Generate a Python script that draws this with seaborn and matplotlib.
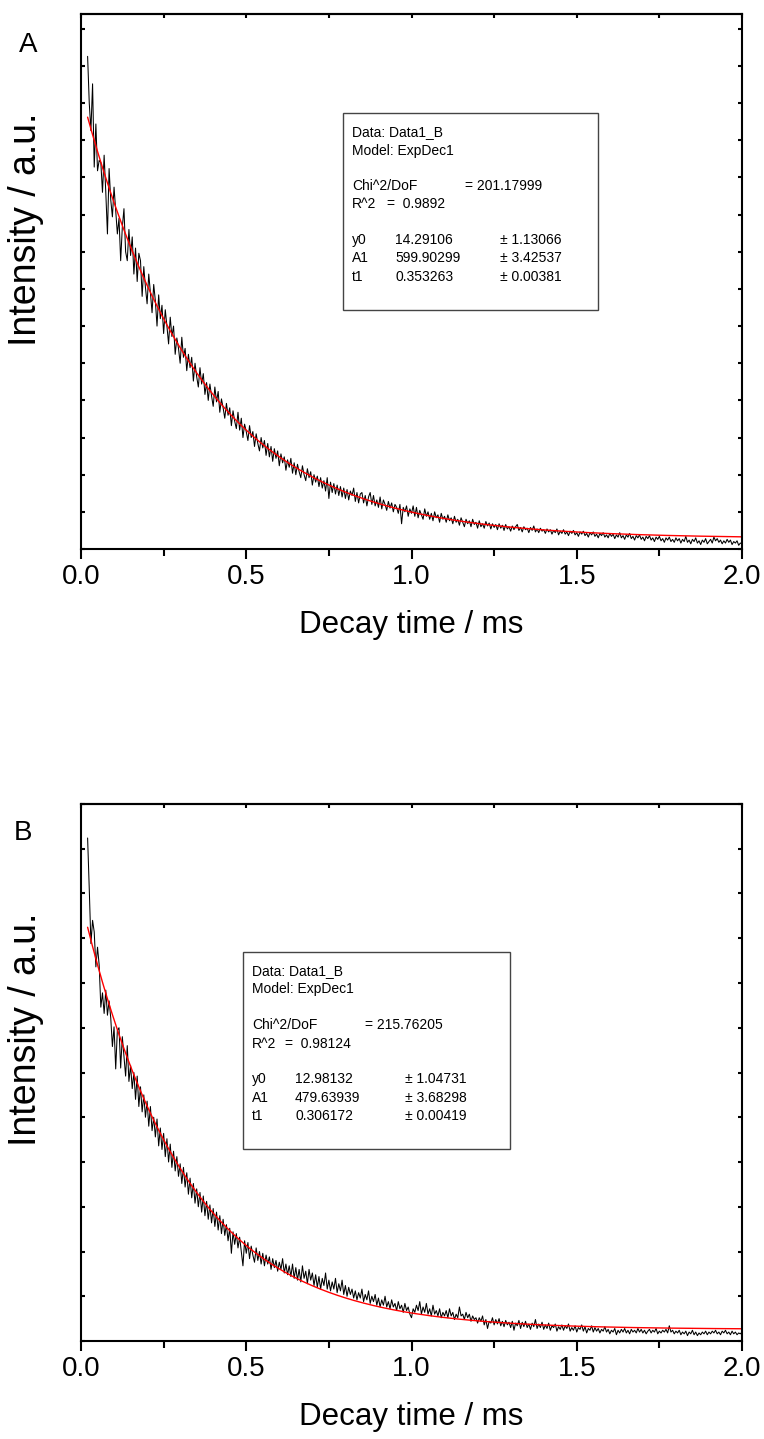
import numpy as np
import pandas as pd
import matplotlib
matplotlib.use("Agg")
import matplotlib.pyplot as plt
from matplotlib.patches import Rectangle
from matplotlib.ticker import MultipleLocator
import seaborn as sns

# ---------------- data ----------------
time_first_ms = 0.02
time_last_ms = 2.00

intensity_a = [
    663, 600, 563, 626, 514, 572, 509, 523, 520, 480, 530, 480, 424, 512, 470, 447,
    487, 455, 424, 445, 388, 433, 458, 400, 388, 430, 395, 420, 370, 405, 360, 398,
    388, 340, 380, 352, 330, 370, 345, 318, 356, 334, 300, 342, 310, 328, 290, 322,
    300, 276, 312, 286, 300, 262, 284, 270, 250, 285, 258, 270, 240, 262, 244, 258,
    226, 250, 232, 218, 244, 222, 236, 208, 224, 200, 222, 206, 192, 218, 198, 212,
    184, 202, 190, 176, 196, 180, 190, 166, 186, 172, 162, 184, 160, 176, 150, 168,
    158, 146, 166, 150, 158, 138, 155, 142, 132, 150, 136, 146, 126, 142, 124, 138,
    118, 135, 122, 132, 112, 128, 116, 124, 106, 120, 110, 122, 102, 116, 100, 114,
    104, 96, 112, 100, 92, 108, 96, 104, 86, 100, 90, 98, 84, 96, 82, 92,
    78, 96, 68, 90, 76, 88, 74, 86, 72, 84, 70, 82, 68, 80, 66, 78,
    72, 82, 64, 76, 62, 74, 76, 62, 72, 58, 70, 76, 60, 72, 58, 66,
    56, 70, 54, 66, 60, 52, 64, 55, 62, 50, 60, 56, 48, 60, 34, 56,
    50, 58, 44, 54, 48, 58, 44, 56, 42, 52, 46, 40, 54, 44, 50, 40,
    48, 38, 50, 42, 46, 36, 48, 40, 44, 36, 46, 38, 42, 34, 44, 36,
    40, 32, 42, 36, 30, 40, 34, 38, 30, 40, 33, 36, 28, 38, 30, 34,
    28, 37, 31, 35, 27, 34, 29, 33, 26, 34, 28, 32, 25, 33, 27, 30,
    24, 31, 26, 30, 33, 25, 29, 23, 30, 26, 28, 22, 29, 25, 31, 23,
    27, 22, 28, 24, 26, 21, 27, 23, 26, 20, 25, 22, 27, 19, 24, 21,
    26, 20, 23, 18, 24, 21, 25, 19, 22, 17, 23, 20, 24, 18, 21, 16,
    22, 19, 23, 17, 20, 15, 21, 18, 22, 16, 19, 15, 21, 17, 20, 14,
    19, 16, 22, 15, 18, 13, 19, 16, 21, 14, 17, 12, 18, 15, 19, 13,
    16, 11, 17, 14, 18, 12, 15, 10, 16, 13, 17, 11, 14, 9, 15, 12,
    16, 10, 13, 9, 15, 11, 14, 8, 13, 10, 17, 9, 12, 7, 13, 10,
    15, 8, 11, 6, 12, 9, 14, 7, 10, 13, 8, 16, 11, 14, 9, 12,
    7, 11, 8, 13, 9, 12, 6, 10, 8, 11, 5, 8, 7,
]

intensity_b = [
    562, 505, 444, 470, 457, 418, 440, 420, 373, 389, 366, 392, 364, 380, 361, 329,
    351, 304, 347, 350, 305, 340, 318, 296, 330, 290, 308, 282, 300, 270, 296, 262,
    284, 256, 275, 250, 268, 240, 262, 235, 250, 228, 248, 218, 238, 214, 232, 206,
    226, 200, 220, 194, 212, 190, 206, 184, 198, 176, 194, 172, 188, 164, 182, 160,
    176, 154, 170, 150, 166, 144, 162, 140, 156, 136, 152, 132, 148, 128, 144, 124,
    140, 120, 136, 118, 130, 112, 126, 98, 122, 108, 120, 104, 116, 100, 84, 112,
    98, 110, 92, 106, 96, 88, 104, 90, 100, 86, 98, 84, 96, 86, 94, 80,
    92, 82, 90, 78, 88, 80, 92, 76, 86, 74, 84, 72, 86, 70, 82, 68,
    80, 66, 84, 70, 78, 64, 80, 68, 76, 62, 74, 60, 72, 58, 70, 62,
    76, 58, 68, 56, 66, 58, 70, 54, 64, 56, 68, 52, 62, 50, 60, 52,
    58, 48, 56, 46, 54, 48, 58, 44, 52, 46, 56, 42, 50, 44, 52, 40,
    48, 38, 46, 40, 50, 38, 44, 36, 46, 38, 42, 34, 44, 36, 40, 32,
    42, 34, 38, 30, 26, 36, 32, 40, 34, 44, 30, 38, 32, 42, 30, 36,
    28, 40, 30, 34, 28, 36, 26, 32, 28, 34, 26, 36, 28, 32, 24, 30,
    26, 38, 28, 30, 24, 32, 26, 30, 22, 28, 24, 26, 20, 26, 22, 28,
    18, 24, 14, 22, 20, 26, 18, 24, 19, 25, 17, 22, 16, 23, 18, 21,
    15, 22, 12, 20, 17, 23, 14, 21, 16, 22, 15, 19, 13, 20, 16, 24,
    14, 19, 15, 21, 13, 18, 14, 20, 12, 17, 15, 19, 11, 16, 13, 18,
    12, 17, 14, 19, 11, 15, 12, 17, 10, 15, 13, 18, 11, 16, 9, 14,
    12, 17, 10, 15, 11, 14, 9, 13, 11, 16, 10, 13, 8, 12, 10, 14,
    7, 12, 9, 13, 10, 14, 9, 12, 8, 13, 10, 12, 9, 14, 10, 13,
    9, 12, 8, 11, 13, 9, 12, 10, 14, 8, 11, 9, 12, 10, 13, 9,
    17, 10, 12, 8, 11, 9, 12, 7, 10, 8, 11, 6, 10, 8, 12, 7,
    10, 6, 9, 7, 10, 8, 11, 7, 10, 8, 11, 9, 12, 8, 10, 7,
    11, 9, 12, 8, 10, 7, 11, 8, 10, 7, 9, 8, 10,
]

# ExpDec1 fit parameters: y0, A1, t1 (shown in the chart's boxes)
fit_a = [14.29106, 599.90299, 0.353263]
fit_b = [12.98132, 479.63939, 0.306172]

panel_letters = ["A", "B"]
ylims = [720, 600]
x_ticks = [0.0, 0.5, 1.0, 1.5, 2.0]
x_ticklabels = ["0.0", "0.5", "1.0", "1.5", "2.0"]

box_a = [
    ["Data: Data1_B"], ["Model: ExpDec1"], [],
    ["Chi^2/DoF", "= 201.17999"], ["R^2", "=  0.9892"], [],
    ["y0", "14.29106", "\u00b1 1.13066"],
    ["A1", "599.90299", "\u00b1 3.42537"],
    ["t1", "0.353263", "\u00b1 0.00381"],
]
box_b = [
    ["Data: Data1_B"], ["Model: ExpDec1"], [],
    ["Chi^2/DoF", "= 215.76205"], ["R^2", "=  0.98124"], [],
    ["y0", "12.98132", "\u00b1 1.04731"],
    ["A1", "479.63939", "\u00b1 3.68298"],
    ["t1", "0.306172", "\u00b1 0.00419"],
]

# ---------------- styling ----------------
sns.set_style("ticks")
plt.rcParams["font.family"] = ["Liberation Sans", "DejaVu Sans"]
for key in ["text.color", "axes.labelcolor", "xtick.color", "ytick.color",
            "axes.edgecolor"]:
    plt.rcParams[key] = "black"

W, H = 764, 1439
fig = plt.figure(figsize=(W / 100, H / 100), dpi=100)


def fx(px):
    return px / W


def fy(py):
    return 1 - py / H


axes_px = [(81, 742, 14, 549), (81, 742, 804, 1341)]
letters_px = [(28, 45), (23, 833)]
ylabel_center = [0.598, 0.58]
box_px = [(343, 598, 113, 310), (243, 510, 952, 1149)]
# column offsets (px from box left) for each row
row_cols = [
    [[9], [9], [], [9, 122], [9, 44], [], [9, 52, 157], [9, 52, 157], [9, 52, 157]],
    [[9], [9], [], [9, 122], [9, 42], [], [9, 52, 162], [9, 52, 162], [9, 52, 162]],
]

datasets = [intensity_a, intensity_b]
fits = [fit_a, fit_b]
boxes = [box_a, box_b]

for i in range(2):
    l, r, t, b = axes_px[i]
    ax = fig.add_axes([fx(l), fy(b), fx(r) - fx(l), fy(t) - fy(b)])
    y = np.array(datasets[i], dtype=float)
    x = np.linspace(time_first_ms, time_last_ms, len(y))
    df = pd.DataFrame({"t": x, "I": y})
    y0, A1, t1 = fits[i]
    df["fit"] = y0 + A1 * np.exp(-df["t"] / t1)

    sns.lineplot(data=df, x="t", y="I", ax=ax, color="black", lw=0.75,
                 estimator=None, sort=False)
    sns.lineplot(data=df, x="t", y="fit", ax=ax, color="red", lw=1.0,
                 estimator=None, sort=False)

    ax.set_xlim(0, 2.0)
    ax.set_ylim(0, ylims[i])
    ax.set_xticks(x_ticks)
    ax.set_xticklabels(x_ticklabels)
    ax.xaxis.set_minor_locator(MultipleLocator(0.25))
    ax.yaxis.set_major_locator(MultipleLocator(50))
    ax.tick_params(axis="x", which="major", direction="out", length=7,
                   width=1.5, labelsize=20, pad=4, top=False)
    ax.tick_params(axis="x", which="minor", direction="out", length=5,
                   width=1.5, top=False)
    ax.tick_params(axis="y", which="major", direction="in", length=3,
                   width=1.5, left=True, right=True, labelleft=False)
    for s in ax.spines.values():
        s.set_visible(True)
        s.set_linewidth(1.5)
        s.set_color("black")

    sec = ax.secondary_xaxis("top")
    sec.set_xticks(np.arange(0, 2.01, 0.25))
    sec.tick_params(direction="in", length=3, width=1.5, labeltop=False)
    sec.spines["top"].set_linewidth(1.5)

    ax.set_xlabel("Decay time / ms", fontsize=22.5, labelpad=14)
    ax.set_ylabel("Intensity / a.u.", fontsize=27)
    ax.yaxis.set_label_coords((44 - l) / (r - l), ylabel_center[i])

    fig.text(fx(letters_px[i][0]), fy(letters_px[i][1]), panel_letters[i],
             fontsize=20, ha="center", va="center")

    bl, br, bt, bb = box_px[i]
    fig.add_artist(Rectangle((fx(bl), fy(bb)), fx(br) - fx(bl), fy(bt) - fy(bb),
                             transform=fig.transFigure, fill=False,
                             edgecolor="#444444", lw=1.0))
    line_y = bt + 19
    for row, cols in zip(boxes[i], row_cols[i]):
        for txt, off in zip(row, cols):
            fig.text(fx(bl + off), fy(line_y), txt, fontsize=10,
                     ha="left", va="center")
        line_y += 18.5 if row else 17

fig.savefig("out.png", dpi=100)
